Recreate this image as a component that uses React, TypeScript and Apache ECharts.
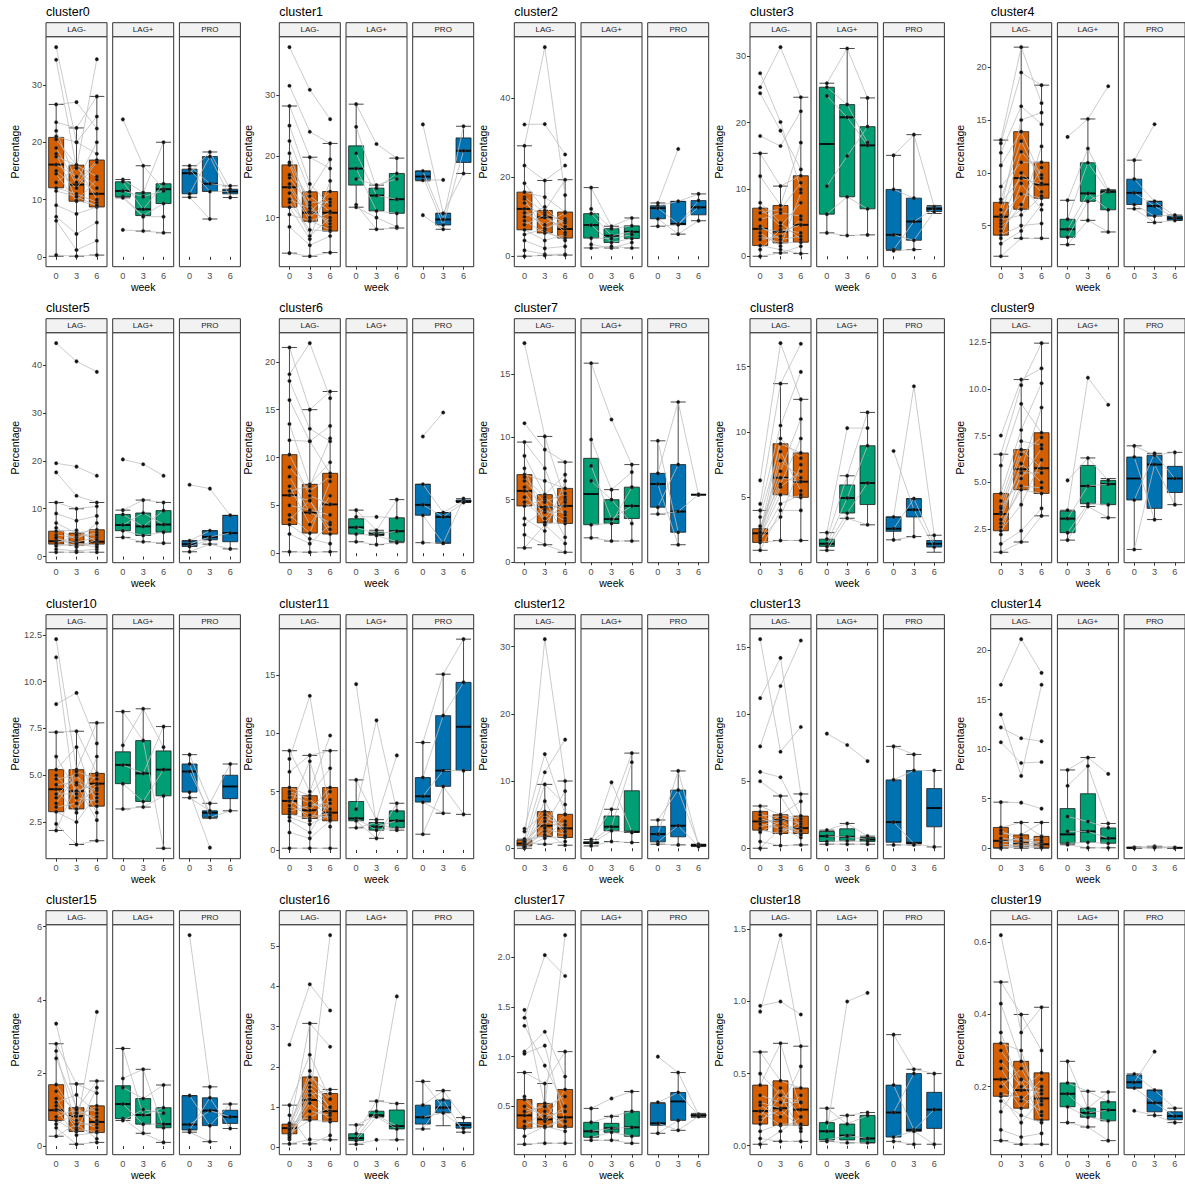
import React, { useEffect, useRef } from 'react';
import * as echarts from 'echarts';

const clusterNames = ['cluster0','cluster1','cluster2','cluster3','cluster4','cluster5','cluster6','cluster7','cluster8','cluster9','cluster10','cluster11','cluster12','cluster13','cluster14','cluster15','cluster16','cluster17','cluster18','cluster19'];
const facetNames = ['LAG-', 'LAG+', 'PRO'];
const weekLabels = ['0', '3', '6'];
const facetColors = ['#D55E00', '#009E73', '#0072B2'];
const xAxisTitle = 'week';
const yAxisTitle = 'Percentage';

const yTickLabels: string[][] = [
  ['0','10','20','30'], ['10','20','30'], ['0','20','40'], ['0','10','20','30'], ['5','10','15','20'],
  ['0','10','20','30','40'], ['0','5','10','15','20'], ['0','5','10','15'], ['5','10','15'], ['2.5','5.0','7.5','10.0','12.5'],
  ['2.5','5.0','7.5','10.0','12.5'], ['0','5','10','15'], ['0','10','20','30'], ['0','5','10','15'], ['0','5','10','15','20'],
  ['0','2','4','6'], ['0','1','2','3','4','5'], ['0.5','1.0','1.5','2.0'], ['0.0','0.5','1.0','1.5'], ['0.2','0.4','0.6'],
];

// box stats per cluster, per week: [low whisker, q1, median, q3, high whisker]
const boxLagNeg: number[][][] = [
  [[0.1,12.05,16.1,20.85,26.6],[0.1,9.7,12.6,16.0,22.5],[0.3,8.7,11.0,16.9,28.0]],
  [[4.2,11.7,14.95,18.6,28.2],[3.7,9.4,10.8,14.2,19.85],[4.3,7.8,10.8,14.25,22.1]],
  [[0,6.7,12.0,16.25,28.0],[0.2,5.9,9.85,11.6,19.2],[0.3,4.6,6.9,11.2,19.4]],
  [[0,1.6,4.1,7.2,15.4],[0.5,2.0,3.7,7.6,10.5],[0.4,2.1,4.7,12.05,23.8]],
  [[2.1,4.1,5.85,7.2,13.1],[3.8,6.55,9.5,13.9,21.9],[3.8,7.6,8.9,11.0,18.3]],
  [[0.9,2.6,3.2,5.3,11.3],[0.9,2.3,3.0,4.9,10.0],[0.9,2.6,3.1,5.6,11.3]],
  [[0.15,3.0,6.05,10.3,21.5],[0.1,2.1,4.25,7.2,15.0],[0.15,2.0,5.1,8.35,16.9]],
  [[1.15,4.5,5.7,7.0,9.6],[1.4,3.15,4.4,5.4,10.05],[0.8,3.1,4.5,5.9,8.0]],
  [[0.95,1.55,2.25,2.6,4.0],[1.7,5.2,6.5,9.1,13.7],[1.7,5.0,6.2,8.4,12.5]],
  [[1.25,2.4,3.3,4.4,6.5],[1.8,4.6,5.7,6.75,10.5],[3.2,4.4,5.75,7.65,12.45]],
  [[2.05,3.05,4.25,5.3,7.3],[1.3,3.2,4.15,5.3,7.35],[1.5,3.35,4.55,5.1,7.8]],
  [[0.15,3.05,4.2,5.35,8.5],[0.15,2.7,3.4,4.65,8.1],[0.15,2.5,3.2,5.35,8.5]],
  [[0,0.35,0.7,1.2,1.35],[0.6,1.75,3.35,5.45,9.5],[0.45,1.6,2.95,5.05,10.0]],
  [[0,1.35,2.0,2.75,3.15],[0.2,1.1,2.1,2.5,3.9],[0.25,1.1,1.5,2.4,4.05]],
  [[0,0.05,0.75,2.1,4.65],[0,0.15,0.5,1.35,2.6],[0,0.05,0.4,1.2,2.6]],
  [[0.27,0.7,0.98,1.68,2.8],[0.05,0.4,0.82,1.05,1.7],[0.1,0.37,0.66,1.1,1.78]],
  [[0.09,0.34,0.48,0.58,1.05],[0.09,0.68,1.18,1.75,3.08],[0.19,0.64,0.9,1.34,1.44]],
  [[0.12,0.28,0.41,0.57,0.84],[0.13,0.29,0.37,0.53,0.73],[0.13,0.29,0.39,0.67,1.05]],
  [[0.01,0.15,0.24,0.42,0.65],[0.03,0.14,0.26,0.45,0.71],[0.03,0.14,0.25,0.40,0.69]],
  [[0.05,0.173,0.22,0.32,0.49],[0.04,0.14,0.19,0.27,0.40],[0.04,0.107,0.167,0.238,0.42]],
];

const boxLagPos: number[][][] = [
  [[10.3,10.5,11.5,13.1,13.5],[4.5,7.2,8.3,11.2,15.9],[4.2,9.3,11.8,12.75,20.0]],
  [[11.7,15.3,18.0,21.7,28.5],[8.1,11.1,13.6,14.8,15.3],[8.3,10.7,13.0,17.2,19.7]],
  [[2.1,4.6,7.9,10.8,17.4],[2.1,3.5,5.2,7.0,7.6],[2.1,4.5,6.2,7.7,9.7]],
  [[3.5,6.3,16.8,25.3,25.9],[3.1,8.9,20.8,22.7,31.1],[3.2,7.1,16.6,19.4,23.7]],
  [[3.2,3.9,4.65,5.6,7.4],[5.5,7.3,8.05,10.95,15.1],[4.4,6.5,8.2,8.35,8.4]],
  [[4.0,5.4,6.6,8.8,9.7],[3.1,4.4,6.3,9.1,11.8],[2.8,5.1,6.7,9.6,11.3]],
  [[1.2,2.0,2.7,3.6,4.5],[0.9,1.85,2.0,2.2,2.4],[1.1,1.2,2.3,3.7,5.6]],
  [[1.95,3.0,5.45,8.3,15.9],[1.7,3.1,3.45,5.0,5.8],[1.7,3.5,4.5,6.0,7.8]],
  [[0.95,1.25,1.45,1.8,2.3],[3.4,3.8,4.95,5.95,6.65],[2.9,4.45,6.1,8.95,11.5]],
  [[1.9,2.3,3.05,3.45,3.5],[3.7,3.85,4.8,5.9,6.3],[3.1,3.8,4.9,5.1,5.2]],
  [[3.2,4.55,5.55,6.25,8.4],[3.3,3.6,5.1,6.85,8.55],[1.1,3.9,5.3,6.3,7.6]],
  [[1.9,2.5,2.7,4.15,6.0],[1.0,1.7,2.0,2.35,2.6],[1.7,1.9,2.5,3.35,4.0]],
  [[0.35,0.7,0.8,0.95,1.3],[1.0,2.6,3.2,4.8,5.8],[0.85,2.35,2.45,8.55,14.15]],
  [[0.3,0.5,0.9,1.25,1.35],[0.3,0.55,0.85,1.45,1.85],[0.3,0.5,0.65,0.8,0.9]],
  [[0.35,0.5,1.4,4.0,7.9],[0.05,0.6,1.7,5.5,9.15],[0.05,0.5,1.0,2.05,2.5]],
  [[0.7,0.75,1.15,1.65,2.67],[0.35,0.6,0.85,1.3,2.1],[0.1,0.5,0.6,1.05,1.67]],
  [[0.08,0.17,0.23,0.34,0.56],[0.76,0.76,0.8,0.9,1.15],[0.19,0.46,0.53,0.93,1.09]],
  [[0.16,0.19,0.25,0.34,0.48],[0.16,0.24,0.28,0.33,0.40],[0.13,0.2,0.29,0.45,0.65]],
  [[0.03,0.04,0.1,0.16,0.26],[0.02,0.04,0.07,0.15,0.21],[0.02,0.02,0.05,0.21,0.23]],
  [[0.10,0.144,0.18,0.21,0.27],[0.088,0.115,0.127,0.14,0.187],[0.05,0.105,0.135,0.158,0.185]],
];

const boxPro: number[][][] = [
  [[10.4,11.0,14.6,15.3,15.9],[6.6,11.4,12.75,17.5,18.3],[10.35,11.0,11.4,11.8,12.4]],
  [[16.0,16.1,16.7,17.6,17.6],[8.1,8.8,9.7,10.7,10.7],[17.2,19.0,20.9,23.0,24.9]],
  [[7.6,9.5,12.2,12.8,13.5],[5.6,8.0,8.2,13.9,13.9],[9.0,10.5,12.4,14.1,15.8]],
  [[0.85,1.0,3.2,10.0,15.1],[1.0,2.4,5.2,8.7,18.2],[6.4,6.7,7.1,7.4,7.6]],
  [[6.6,7.0,8.1,9.4,11.2],[5.3,5.9,6.85,7.3,7.3],[5.5,5.5,5.7,5.9,6.0]],
  [[1.0,2.1,2.6,3.3,3.3],[2.6,3.5,4.1,5.4,5.4],[1.6,3.1,4.9,8.6,8.6]],
  [[1.1,3.97,5.05,7.2,7.2],[1.05,1.05,3.8,4.25,4.25],[5.3,5.35,5.4,5.55,5.7]],
  [[3.85,4.4,6.25,7.1,9.7],[1.4,2.4,4.05,7.8,12.8],[5.4,5.4,5.4,5.4,5.4]],
  [[1.75,2.4,2.6,3.5,3.5],[2.0,3.5,4.05,4.9,4.9],[0.8,1.2,1.45,1.7,2.1]],
  [[1.4,4.05,5.2,6.35,6.95],[3.0,3.6,5.95,6.45,6.55],[3.8,4.45,5.2,5.85,6.6]],
  [[3.8,4.1,5.2,5.6,6.1],[2.7,2.75,3.0,3.1,3.5],[3.1,3.75,4.4,5.0,5.6]],
  [[1.35,4.1,4.6,6.2,9.2],[3.15,5.45,6.8,11.5,15.05],[3.05,6.8,10.55,14.35,18.05]],
  [[0.6,0.95,2.1,3.25,4.2],[0.5,1.7,3.35,8.65,11.5],[0.25,0.35,0.45,0.55,0.6]],
  [[0.25,0.45,1.95,5.1,7.6],[0.25,0.35,0.4,5.8,7.0],[0.1,1.6,3.0,4.45,5.8]],
  [[0,0.02,0.05,0.08,0.1],[0.05,0.08,0.12,0.16,0.2],[0.03,0.04,0.05,0.06,0.07]],
  [[0.38,0.44,0.59,1.38,1.38],[0.12,0.56,0.97,1.32,1.62],[0.48,0.62,0.8,0.98,1.15]],
  [[0.46,0.58,0.75,1.05,1.64],[0.54,0.86,0.99,1.18,1.41],[0.38,0.48,0.56,0.62,0.74]],
  [[0.23,0.31,0.33,0.53,0.54],[0.26,0.36,0.55,0.64,0.84],[0.39,0.40,0.41,0.42,0.43]],
  [[0.03,0.06,0.23,0.42,0.77],[0.01,0.1,0.11,0.5,0.53],[0.01,0.12,0.25,0.37,0.5]],
  [[0.196,0.196,0.212,0.232,0.235],[0.12,0.13,0.155,0.19,0.19],[0.10,0.108,0.118,0.13,0.14]],
];

// subject trajectories [week0, week3, week6]
const linesLagNeg: (number | null)[][][] = [
  [[36.6,20.0,24.5],[34.4,15.5,34.5],[26.6,27.0,22.4],[23.5,22.5,28.0],[21.0,20.0,18.0],[19.0,12.6,16.9],[16.1,14.0,11.0],[14.5,9.7,13.5],[12.0,11.0,9.5],[9.0,7.5,8.7],[7.0,4.0,6.0],[6.3,1.2,2.8],[0.3,0.1,0.3],[17.5,16.0,10.0],[20.5,16.0,14.0],[15.0,12.0,16.5],[13.0,15.5,12.0],[11.5,10.5,8.9],[18.0,9.8,9.0],[22.0,13.0,20.0]],
  [[37.8,30.85,26.06],[31.5,24.0,22.1],[28.2,19.85,18.0],[25.0,15.5,12.0],[22.5,14.2,19.5],[18.6,10.8,14.25],[16.5,12.0,8.5],[14.95,9.4,10.8],[12.5,8.0,7.8],[11.7,6.5,16.0],[8.5,5.5,7.0],[4.2,3.7,4.3],[20.5,11.0,9.5],[17.0,13.5,11.0],[15.5,10.0,13.0],[13.0,11.5,9.0],[10.5,9.5,8.0],[19.0,12.5,12.5],[14.0,7.0,10.0]],
  [[33.4,33.5,25.8],[28.0,53.0,15.5],[23.0,19.2,23.0],[18.5,11.6,19.4],[16.25,15.0,11.2],[13.5,9.85,6.9],[12.0,7.0,9.5],[9.0,5.9,4.6],[6.7,4.0,5.5],[4.0,2.0,2.5],[1.5,0.5,0.5],[0,0.2,0.3],[15.0,11.0,8.5],[11.0,8.0,11.0],[8.0,10.5,6.0],[14.5,6.5,4.0],[10.0,12.5,7.5],[5.5,7.0,9.0]],
  [[27.4,20.1,10.0],[25.3,31.3,23.8],[24.4,18.8,13.0],[18.0,16.5,21.7],[15.4,10.5,12.05],[12.0,7.6,17.0],[7.2,4.5,8.0],[4.1,3.7,4.7],[3.0,2.0,2.1],[1.6,1.0,0.4],[0,0.5,1.5],[5.5,6.5,6.0],[6.5,7.0,11.0],[4.5,2.5,3.0],[2.5,3.0,5.5],[8.0,5.0,2.5],[3.5,1.5,9.5],[1.0,4.0,3.5]],
  [[13.1,21.9,16.6],[12.8,19.5,18.3],[11.9,16.3,14.6],[10.7,13.9,9.5],[8.7,11.0,11.0],[7.2,9.5,8.9],[6.5,15.0,15.7],[5.85,8.0,7.6],[4.9,6.55,12.5],[4.1,5.0,5.2],[3.3,4.5,7.0],[2.1,3.8,3.8],[6.0,12.0,9.8],[5.2,10.0,8.2],[4.5,7.0,10.5],[3.8,9.0,6.5],[7.5,13.0,9.0],[5.5,6.0,7.8]],
  [[44.6,40.8,38.6],[19.5,18.8,16.9],[17.6,12.7,11.3],[11.3,10.0,10.5],[9.0,7.5,8.5],[7.0,4.9,5.6],[5.3,5.5,3.1],[3.2,3.0,4.0],[2.6,2.3,2.6],[1.5,1.2,1.5],[0.9,0.9,0.9],[4.5,4.0,5.0],[3.8,2.8,2.4],[2.8,4.5,4.5],[4.0,2.0,3.5],[6.0,3.5,7.0],[2.2,2.6,2.0]],
  [[21.5,15.0,16.9],[18.7,21.95,16.2],[18.0,13.0,11.7],[16.0,11.7,13.3],[13.5,7.2,9.5],[11.8,11.7,8.35],[10.3,6.0,5.1],[8.0,4.25,3.2],[6.05,5.5,2.0],[4.0,2.1,7.5],[3.0,1.5,1.0],[0.15,0.1,0.15],[9.0,6.5,8.0],[7.0,3.0,6.0],[5.0,4.5,4.0],[3.5,5.5,2.5],[2.0,1.0,3.0],[6.5,7.0,12.0]],
  [[17.5,10.05,5.0],[11.1,9.0,8.0],[9.6,7.5,3.5],[8.5,5.4,7.0],[7.0,6.5,5.9],[6.0,4.4,4.5],[5.7,3.15,3.1],[4.5,5.0,2.0],[3.5,2.5,6.5],[2.2,1.4,0.8],[1.15,3.0,1.5],[6.5,4.8,5.5],[5.2,4.0,4.0],[4.8,3.5,5.2],[6.8,5.2,3.8],[3.0,4.2,3.3],[7.5,3.2,4.8]],
  [[6.3,16.8,12.5],[4.5,13.7,16.75],[4.0,10.5,14.6],[3.5,9.1,8.4],[2.6,7.0,11.0],[2.25,6.5,6.2],[2.0,5.2,5.0],[1.8,3.5,7.5],[1.55,1.7,1.7],[0.95,4.0,4.0],[2.4,7.8,6.5],[2.1,5.8,7.0],[1.9,8.5,5.5],[2.8,6.0,9.5],[1.7,4.5,5.2],[2.3,9.5,8.0]],
  [[7.5,10.5,11.1],[6.5,10.2,12.45],[5.9,9.2,7.65],[4.4,7.8,10.3],[3.7,6.75,5.75],[3.3,5.7,9.0],[2.8,4.6,4.4],[2.4,3.8,6.2],[1.7,2.4,3.6],[1.25,1.8,3.2],[3.0,6.0,5.0],[3.6,5.2,6.8],[2.6,4.8,4.7],[4.0,7.2,7.0],[2.2,5.5,5.5],[3.4,6.5,7.4]],
  [[12.27,5.3,7.8],[11.3,3.2,4.5],[8.8,9.4,6.7],[7.3,7.35,5.1],[6.0,4.15,4.55],[5.3,6.5,3.35],[4.25,3.0,6.0],[3.5,5.0,3.0],[3.05,2.5,4.0],[2.4,1.3,1.5],[2.05,4.5,2.6],[4.5,4.6,4.2],[3.8,5.2,4.8],[5.0,3.8,3.6],[4.0,4.0,5.0],[3.3,3.5,4.3],[4.8,5.0,3.8]],
  [[8.5,5.0,9.8],[7.8,13.2,3.0],[6.7,8.1,8.5],[5.35,4.65,7.0],[4.2,3.4,5.35],[3.5,7.6,2.0],[3.05,2.7,3.2],[2.5,1.5,4.3],[1.5,1.0,2.5],[0.15,0.15,0.15],[4.8,4.0,3.5],[3.8,3.0,2.8],[4.5,2.5,5.0],[3.3,3.8,4.0],[5.0,4.4,2.6],[2.8,2.2,3.0]],
  [[0.7,31.1,10.0],[2.9,14.0,5.05],[1.2,11.3,16.15],[0.5,9.5,6.5],[2.5,5.45,2.95],[0.35,3.35,8.5],[0.1,7.0,1.6],[1.35,1.75,4.0],[0,2.5,0.45],[0.8,0.6,1.0],[0.5,3.0,2.0],[0.3,4.5,3.5],[0.9,2.0,5.0],[0.6,5.0,2.5],[0.2,1.5,1.8],[1.0,4.0,3.0]],
  [[15.6,7.2,9.05],[11.2,14.2,4.05],[7.6,12.1,15.5],[5.7,5.3,2.4],[5.0,3.9,1.5],[3.15,2.5,3.5],[2.0,2.1,1.1],[1.35,1.1,2.0],[0.5,0.2,0.25],[0,1.5,0.8],[2.5,2.3,1.8],[1.8,1.5,1.3],[1.5,2.5,2.2],[2.2,1.8,1.0],[1.2,2.0,2.4],[2.7,1.3,1.6]],
  [[16.5,21.1,17.7],[13.5,7.3,16.5],[12.2,11.1,10.8],[10.7,8.6,8.7],[4.65,4.6,4.0],[2.1,2.6,1.2],[1.5,1.35,2.6],[0.75,0.5,0.4],[0,0.15,0.05],[0.4,0.3,0.2],[1.0,0.8,0.6],[0.2,0.1,0.8],[0.6,1.0,0.3],[1.8,0.7,1.1],[0.1,0.4,0.1]],
  [[3.35,1.0,1.78],[2.8,1.7,1.45],[2.6,0.5,3.67],[2.4,1.05,0.66],[1.68,0.82,1.1],[1.2,1.4,0.9],[0.98,0.3,0.37],[0.7,0.4,1.6],[0.5,0.05,0.1],[0.27,0.6,0.2],[1.5,0.9,0.8],[1.0,0.7,0.5],[0.8,1.0,0.7],[1.3,0.45,0.4],[0.6,0.9,1.0],[1.1,0.6,0.6]],
  [[2.55,4.05,3.4],[0.48,3.08,2.5],[0.4,1.2,5.27],[1.05,2.3,1.2],[0.58,1.75,1.34],[0.5,1.9,0.9],[0.34,0.68,0.64],[0.2,1.3,1.44],[0.09,0.2,0.19],[0.8,0.09,0.3],[0.45,1.5,1.0],[0.35,0.9,0.8],[0.55,1.6,1.2],[0.3,1.1,0.7],[0.6,0.75,1.0],[0.25,1.4,0.85]],
  [[1.47,0.5,2.22],[1.39,2.02,1.81],[1.31,0.91,0.5],[1.05,1.25,0.8],[1.03,1.11,0.35],[0.84,0.73,1.05],[0.57,0.37,0.67],[0.41,0.53,0.29],[0.28,0.29,0.39],[0.12,0.13,0.13],[0.5,0.4,0.45],[0.35,0.3,0.35],[0.45,0.5,0.6],[0.3,0.45,0.3],[0.6,0.35,0.5],[0.2,0.3,0.25]],
  [[0.97,1.0,0.91],[0.93,1.46,0.69],[0.65,0.45,0.4],[0.42,0.71,0.25],[0.3,0.26,0.55],[0.24,0.14,0.14],[0.15,0.35,0.1],[0.05,0.03,0.03],[0.01,0.1,0.2],[0.35,0.3,0.3],[0.2,0.4,0.2],[0.28,0.2,0.35],[0.1,0.15,0.15],[0.5,0.35,0.3],[0.18,0.25,0.12]],
  [[0.62,0.35,0.42],[0.49,0.40,0.30],[0.43,0.27,0.16],[0.35,0.19,0.238],[0.32,0.30,0.12],[0.22,0.14,0.2],[0.173,0.1,0.167],[0.13,0.22,0.107],[0.08,0.06,0.07],[0.05,0.04,0.04],[0.27,0.2,0.18],[0.2,0.25,0.15],[0.25,0.16,0.22],[0.18,0.17,0.13],[0.3,0.22,0.19],[0.16,0.12,0.1]],
];

const linesLagPos: (number | null)[][][] = [
  [[24.0,15.9,11.8],[13.5,11.2,20.0],[13.1,8.3,12.75],[11.5,10.5,11.5],[10.5,7.2,9.3],[10.3,7.0,7.0],[4.7,4.5,4.2]],
  [[28.5,22.0,19.7],[24.8,14.8,17.2],[20.5,13.6,13.0],[18.0,11.1,10.7],[16.3,15.3,16.3],[12.1,8.1,8.3],[11.7,10.0,8.5]],
  [[17.4,7.6,9.7],[12.0,7.0,7.7],[10.8,5.2,6.2],[7.9,3.5,4.5],[4.6,4.5,5.5],[3.0,2.1,3.5],[2.1,2.5,2.1]],
  [[25.9,31.1,23.7],[25.3,22.7,17.0],[24.0,20.8,16.6],[10.5,15.0,19.4],[6.3,8.9,7.1],[3.5,3.1,3.2]],
  [[13.4,15.1,18.2],[7.4,12.3,8.4],[5.6,10.95,8.2],[4.65,8.05,6.5],[3.9,7.3,8.35],[3.2,5.5,4.4]],
  [[20.3,19.3,16.9],[9.7,11.8,11.3],[8.8,6.3,9.6],[6.6,9.1,6.7],[5.4,4.4,5.1],[4.0,3.1,2.8]],
  [[4.5,2.4,5.6],[3.8,3.8,3.7],[2.7,2.0,2.3],[2.0,1.85,1.2],[1.2,0.9,1.1]],
  [[15.9,11.4,7.8],[9.8,5.8,7.2],[7.7,3.45,4.5],[6.5,5.0,3.1],[3.0,3.1,6.0],[1.95,1.7,1.7]],
  [[2.3,10.3,10.3],[1.8,6.65,11.5],[1.45,4.95,8.95],[1.25,3.8,6.1],[0.95,3.4,2.9]],
  [[3.5,10.6,9.15],[5.1,6.3,5.1],[3.05,4.8,4.9],[2.3,3.85,3.8],[1.9,3.7,3.1]],
  [[8.4,6.85,1.1],[6.6,8.55,6.5],[5.55,5.1,7.6],[4.55,3.6,5.3],[3.2,3.3,3.9]],
  [[14.2,2.0,2.5],[6.0,2.6,8.1],[3.5,11.1,3.35],[2.7,1.7,1.9],[2.5,1.0,4.0],[1.9,2.35,1.7]],
  [[0.8,9.8,2.45],[1.3,5.8,14.15],[0.95,3.2,12.8],[0.7,2.6,2.35],[0.35,1.0,0.85]],
  [[8.55,7.7,6.5],[1.35,1.85,0.9],[0.9,0.85,0.65],[0.5,0.55,0.5],[0.3,0.3,0.3]],
  [[7.9,9.15,7.5],[6.3,8.3,2.5],[3.2,2.7,2.05],[1.7,1.7,1.0],[0.5,0.6,0.5],[0.35,0.05,0.05]],
  [[2.67,0.85,1.05],[1.85,2.1,0.5],[1.6,1.3,1.67],[1.15,0.6,0.6],[0.75,0.35,0.1],[0.7,1.0,0.9]],
  [[0.56,0.8,0.53],[0.34,1.15,1.09],[0.23,0.9,3.75],[0.17,0.76,0.46],[0.08,0.19,0.19]],
  [[0.48,0.58,0.65],[0.34,0.4,0.45],[0.25,0.28,0.29],[0.19,0.24,0.2],[0.16,0.16,0.13]],
  [[0.1,1.0,1.06],[0.26,0.15,0.21],[0.16,0.21,0.23],[0.04,0.07,0.05],[0.03,0.02,0.02]],
  [[0.27,0.14,0.185],[0.21,0.187,0.158],[0.18,0.127,0.135],[0.144,0.115,0.105],[0.10,0.088,0.05]],
];

const linesPro: (number | null)[][][] = [
  [[15.9,12.75,12.4],[14.6,18.3,11.8],[15.3,11.4,11.4],[11.0,17.5,10.35],[10.4,6.6,null]],
  [[25.2,10.7,17.2],[17.6,9.7,24.9],[16.7,8.8,20.9],[16.1,16.15,null],[10.4,8.1,null]],
  [[13.5,27.2,null],[12.8,13.9,15.8],[12.2,8.2,12.4],[9.5,5.6,9.0],[7.6,8.0,14.1]],
  [[15.1,18.2,7.4],[10.0,8.7,null],[3.2,2.4,6.7],[1.0,5.2,7.1],[0.85,1.0,null]],
  [[11.2,14.6,null],[9.4,7.3,5.9],[8.1,6.85,5.7],[7.0,5.9,6.0],[6.6,5.3,5.5]],
  [[15.0,14.2,8.6],[3.3,5.4,null],[2.6,4.1,4.9],[2.1,3.5,null],[1.0,2.6,1.6]],
  [[12.2,14.7,null],[7.2,4.25,5.5],[5.05,3.8,5.3],[3.97,1.05,5.7],[1.1,1.05,null]],
  [[9.7,2.4,null],[7.1,12.8,5.4],[6.25,1.4,null],[4.4,7.8,null],[3.85,4.05,5.4]],
  [[8.55,4.05,1.2],[3.5,13.5,2.1],[2.6,4.9,1.45],[1.75,2.0,null]],
  [[6.95,6.45,6.6],[6.35,3.0,null],[4.05,6.55,5.2],[1.4,5.95,3.8]],
  [[6.1,3.5,5.6],[5.6,2.75,3.1],[5.2,3.0,null],[4.1,1.13,null],[3.8,3.1,null]],
  [[9.2,15.05,18.05],[6.2,11.5,14.35],[4.6,6.8,6.8],[4.1,3.15,null],[1.35,5.45,3.05]],
  [[4.2,8.65,0.6],[2.1,11.5,0.45],[0.95,3.35,0.25],[0.6,0.5,null]],
  [[7.6,7.0,null],[5.1,5.8,5.8],[1.95,0.35,0.1],[0.25,0.25,null]],
  [[0.1,0.2,0.07],[0.05,0.12,0.05],[0,0.05,0.03]],
  [[5.77,1.62,null],[1.38,0.56,1.15],[0.59,0.97,0.8],[0.44,1.32,0.48],[0.38,0.12,null]],
  [[1.64,0.99,null],[1.05,1.41,0.74],[0.75,0.86,0.48],[0.46,1.18,0.38]],
  [[1.0,0.84,0.42],[0.54,0.64,0.41],[0.33,0.26,0.4],[0.23,0.36,null]],
  [[0.77,0.53,0.5],[0.42,0.11,0.25],[0.23,0.5,null],[0.06,0.1,0.01],[0.03,0.01,null]],
  [[0.235,0.19,0.14],[0.212,0.297,null],[0.196,0.155,0.118],[0.133,0.12,0.10]],
];

const FONT = '"Liberation Sans", Arial, Helvetica, sans-serif';

export default function App() {
  const ref = useRef<HTMLDivElement>(null);
  useEffect(() => {
    document.body.style.margin = '0';
    const chart = echarts.init(ref.current as HTMLDivElement, null, { renderer: 'svg' });
    const grids: any[] = [];
    const xAxes: any[] = [];
    const yAxes: any[] = [];
    const series: any[] = [];
    const graphics: any[] = [];
    const colLeft = [46, 279.3, 514.3, 750, 990.7];
    const facetStep = 66.7;
    const facetW = 61;
    const rowH = 296;

    for (let c = 0; c < clusterNames.length; c++) {
      const row = Math.floor(c / 5);
      const col = c % 5;
      const rowOff = rowH * row;
      const top = rowOff + 36.7;
      const h = 230;
      const boxes = [boxLagNeg[c], boxLagPos[c], boxPro[c]];
      const lines = [linesLagNeg[c], linesLagPos[c], linesPro[c]];
      let lo = Infinity;
      let hi = -Infinity;
      boxes.forEach((b) => b.forEach((s) => s.forEach((v) => { lo = Math.min(lo, v); hi = Math.max(hi, v); })));
      lines.forEach((ls) => ls.forEach((t) => t.forEach((v) => { if (v != null) { lo = Math.min(lo, v); hi = Math.max(hi, v); } })));
      const pad = (hi - lo) * 0.05;
      const yMin = lo - pad;
      const yMax = hi + pad;
      const labels = yTickLabels[c];
      const tickVals = labels.map((s) => parseFloat(s));

      for (let f = 0; f < 3; f++) {
        const gi = c * 3 + f;
        const left = colLeft[col] + f * facetStep;
        grids.push({ left, top, width: facetW, height: h, show: true, borderColor: '#333333', borderWidth: 1, backgroundColor: 'transparent' });
        xAxes.push({
          type: 'category', gridIndex: gi, data: weekLabels, boundaryGap: true,
          axisLine: { show: false },
          axisTick: { show: true, alignWithLabel: true, length: 3, lineStyle: { color: '#333333', width: 1 } },
          axisLabel: { fontSize: 9.2, color: '#4D4D4D', margin: 4.5, fontFamily: FONT },
          splitLine: { show: false },
        });
        yAxes.push({
          type: 'value', gridIndex: gi, min: yMin, max: yMax, scale: true,
          axisLine: { show: false }, splitLine: { show: false },
          axisTick: { show: f === 0, length: 3, customValues: tickVals, lineStyle: { color: '#333333', width: 1 } },
          axisLabel: {
            show: f === 0, customValues: tickVals, fontSize: 9.2, color: '#4D4D4D', margin: 4, fontFamily: FONT,
            formatter: (v: number) => {
              const i = tickVals.findIndex((t) => Math.abs(t - v) < 1e-9);
              return i >= 0 ? labels[i] : '';
            },
          },
        });
        series.push({
          type: 'boxplot', xAxisIndex: gi, yAxisIndex: gi, data: boxes[f], boxWidth: [15, 15], silent: true, z: 1,
          itemStyle: { color: facetColors[f], borderColor: '#1a1a1a', borderWidth: 0.8 },
        });
        series.push({
          type: 'scatter', xAxisIndex: gi, yAxisIndex: gi, silent: true, z: 2,
          data: boxes[f].map((b, i) => [i, b[2]]),
          symbol: 'rect', symbolSize: [15, 2], itemStyle: { color: '#000000' },
        });
        lines[f].forEach((t) => {
          series.push({
            type: 'line', xAxisIndex: gi, yAxisIndex: gi, silent: true, z: 3, connectNulls: false,
            data: t.map((v) => (v == null ? '-' : v)),
            symbol: 'circle', symbolSize: 3.6, showSymbol: true,
            lineStyle: { color: '#BEBEBE', width: 0.8 },
            itemStyle: { color: '#111111', borderColor: '#666666', borderWidth: 0.4 },
          });
        });
        graphics.push({
          type: 'rect', shape: { x: left, y: rowOff + 22.7, width: facetW, height: 14 },
          style: { fill: '#F2F2F2', stroke: '#333333', lineWidth: 1 }, silent: true,
        });
        graphics.push({
          type: 'text', x: left + facetW / 2, y: rowOff + 29.9, silent: true,
          style: { text: facetNames[f], fontSize: 8, fontFamily: FONT, fill: '#1A1A1A', align: 'center', verticalAlign: 'middle' },
        });
      }
      graphics.push({
        type: 'text', x: colLeft[col], y: rowOff + 11.5, silent: true,
        style: { text: clusterNames[c], fontSize: 12.5, fontFamily: FONT, fill: '#000000', align: 'left', verticalAlign: 'middle' },
      });
      graphics.push({
        type: 'text', x: colLeft[col] + facetStep + facetW / 2, y: rowOff + 287, silent: true,
        style: { text: xAxisTitle, fontSize: 10.5, fontFamily: FONT, fill: '#000000', align: 'center', verticalAlign: 'middle' },
      });
      graphics.push({
        type: 'text', x: colLeft[col] - 31, y: rowOff + 151.7, rotation: Math.PI / 2, silent: true,
        style: { text: yAxisTitle, fontSize: 10.5, fontFamily: FONT, fill: '#000000', align: 'center', verticalAlign: 'middle' },
      });
    }

    chart.setOption({
      animation: false,
      backgroundColor: '#FFFFFF',
      grid: grids,
      xAxis: xAxes,
      yAxis: yAxes,
      series,
      graphic: graphics,
    });
    return () => chart.dispose();
  }, []);
  return <div ref={ref} style={{ position: 'absolute', left: 0, top: 0, width: 1185, height: 1184 }} />;
}
